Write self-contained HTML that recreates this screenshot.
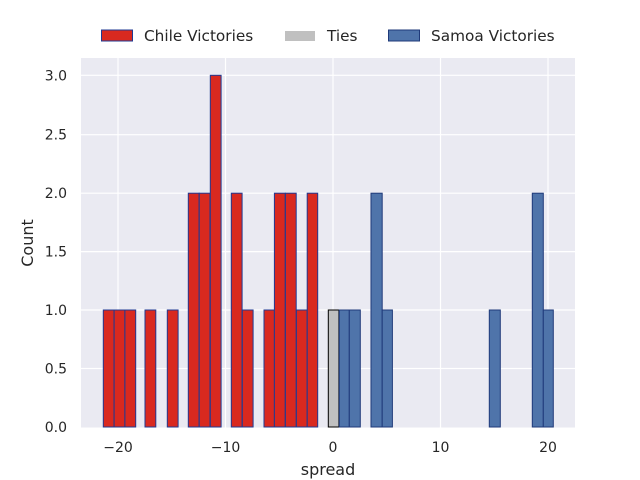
<!DOCTYPE html>
<html><head><style>body{margin:0;background:#fff}svg{display:block}text{font-family:"DejaVu Sans","Liberation Sans",sans-serif;fill:#262626}</style></head>
<body>
<svg width="640" height="480" viewBox="0 0 640 480" xmlns="http://www.w3.org/2000/svg">
<rect x="81" y="58" width="494" height="369.5" fill="#eaeaf2"/>
<g stroke="#fff" stroke-width="1.2">
<line x1="118" y1="58" x2="118" y2="427.5"/><line x1="225.5" y1="58" x2="225.5" y2="427.5"/><line x1="333" y1="58" x2="333" y2="427.5"/><line x1="440.5" y1="58" x2="440.5" y2="427.5"/><line x1="548" y1="58" x2="548" y2="427.5"/>
<line x1="81" y1="368.5" x2="575" y2="368.5"/><line x1="81" y1="310" x2="575" y2="310"/><line x1="81" y1="251.6" x2="575" y2="251.6"/><line x1="81" y1="193.2" x2="575" y2="193.2"/><line x1="81" y1="134.7" x2="575" y2="134.7"/><line x1="81" y1="75.3" x2="575" y2="75.3"/>
</g>
<g fill="#d9291f" stroke="#1f3a93" stroke-width="1">
<rect x="103.3" y="310" width="10.8" height="117"/>
<rect x="114.1" y="310" width="10.8" height="117"/>
<rect x="124.9" y="310" width="10.8" height="117"/>
<rect x="145" y="310" width="10.8" height="117"/>
<rect x="167.3" y="310" width="10.8" height="117"/>
<rect x="188.3" y="193.2" width="10.8" height="233.8"/>
<rect x="199.2" y="193.2" width="10.8" height="233.8"/>
<rect x="210.3" y="75.3" width="10.8" height="351.7"/>
<rect x="231.3" y="193.2" width="10.8" height="233.8"/>
<rect x="242.3" y="310" width="10.8" height="117"/>
<rect x="264" y="310" width="10.4" height="117"/>
<rect x="274.4" y="193.2" width="10.8" height="233.8"/>
<rect x="285.4" y="193.2" width="10.8" height="233.8"/>
<rect x="296.4" y="310" width="10.8" height="117"/>
<rect x="307.2" y="193.2" width="10.5" height="233.8"/>
</g>
<rect x="328.3" y="310" width="10.6" height="117" fill="#c0c0c0" stroke="#000" stroke-width="1"/>
<g fill="#4f74aa" stroke="#1f3a7a" stroke-width="1">
<rect x="339.3" y="310" width="10" height="117"/>
<rect x="349.3" y="310" width="11" height="117"/>
<rect x="371" y="193.2" width="11.2" height="233.8"/>
<rect x="382.2" y="310" width="10.2" height="117"/>
<rect x="489.3" y="310" width="11" height="117"/>
<rect x="532.3" y="193.2" width="11" height="233.8"/>
<rect x="543.3" y="310" width="10" height="117"/>
</g>
<g font-size="14" text-anchor="end">
<text x="67" y="432">0.0</text><text x="67" y="373.5">0.5</text><text x="67" y="315">1.0</text><text x="67" y="256.6">1.5</text><text x="67" y="198.2">2.0</text><text x="67" y="139.7">2.5</text><text x="67" y="80.3">3.0</text>
</g>
<g font-size="14" text-anchor="middle">
<text x="118" y="452">−20</text><text x="225.5" y="452">−10</text><text x="333" y="452">0</text><text x="440.5" y="452">10</text><text x="548" y="452">20</text>
<text x="328" y="475" font-size="16">spread</text>
<text transform="translate(33,243) rotate(-90)" font-size="16">Count</text>
</g>
<rect x="101.5" y="30" width="31" height="11" fill="#d9291f" stroke="#1f3a93"/>
<text x="144" y="41" font-size="15.3">Chile Victories</text>
<rect x="285" y="31" width="30" height="10" fill="#c0c0c0"/>
<text x="327" y="41" font-size="15.3">Ties</text>
<rect x="388.5" y="30" width="31" height="11" fill="#4f74aa" stroke="#1f3a7a"/>
<text x="431" y="41" font-size="15.3">Samoa Victories</text>
</svg>
</body></html>
